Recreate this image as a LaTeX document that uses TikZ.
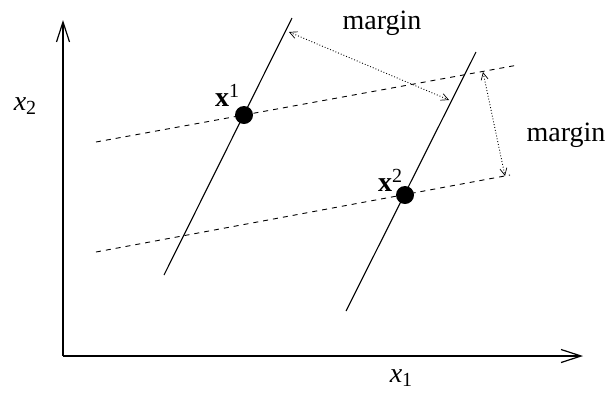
\documentclass[tikz,border=0pt]{standalone}
\usepackage{fontspec}
\setmainfont{Liberation Serif}
\usetikzlibrary{arrows.meta}
\begin{document}
\begin{tikzpicture}[x=1pt,y=-1pt,
  axis/.style={line width=1.6pt,-{Straight Barb[length=20pt,width=13pt,line width=1.2pt]}},
  hyper/.style={line width=1.1pt},
  marginline/.style={line width=0.9pt,dash pattern=on 5pt off 5pt},
  gap/.style={line width=0.9pt,dotted,{Straight Barb[length=7pt,width=7pt,line width=0.7pt]}-{Straight Barb[length=7pt,width=7pt,line width=0.7pt]}},
  pt/.style={circle,fill=black,inner sep=0pt,minimum size=18pt},
  lbl/.style={inner sep=0pt,font=\fontsize{28}{32}\selectfont}]
\useasboundingbox (0,0) rectangle (610,392);
% axes
\coordinate (o) at (63,356);
\coordinate (ytip) at (63,20);
\coordinate (xtip) at (583,356);
\draw[axis] (o) -- (ytip);
\draw[axis] (o) -- (xtip);
\node[lbl] (lx2) at (25,106) {\textit{x}\raisebox{-0.35ex}{\fontsize{20}{24}\selectfont 2}};
\node[lbl] (lx1) at (401,378) {\textit{x}\raisebox{-0.35ex}{\fontsize{20}{24}\selectfont 1}};
% margin lines
\coordinate (u1) at (96,142);
\coordinate (u2) at (518,65);
\coordinate (d1) at (96,252);
\coordinate (d2) at (510,175);
\draw[marginline] (u1) -- (u2);
\draw[marginline] (d1) -- (d2);
% solid lines
\coordinate (a1) at (164,275);
\coordinate (a2) at (292,18);
\coordinate (b1) at (346,311);
\coordinate (b2) at (476,52);
\draw[hyper] (a1) -- (a2);
\draw[hyper] (b1) -- (b2);
% points
\node[pt] (p1) at (244,115) {};
\node[pt] (p2) at (405,195) {};
\node[lbl] (l1) at (227,95) {\textbf{x}\raisebox{0.7ex}{\fontsize{20}{24}\selectfont 1}};
\node[lbl] (l2) at (390,180) {\textbf{x}\raisebox{0.7ex}{\fontsize{20}{24}\selectfont 2}};
% margin arrows
\coordinate (m1s) at (289,32);
\coordinate (m1e) at (449,100);
\coordinate (m2s) at (483,72);
\coordinate (m2e) at (505,176);
\draw[gap] (m1s) -- (m1e);
\draw[gap] (m2s) -- (m2e);
\node[lbl] (mt) at (382,23) {margin};
\node[lbl] (mr) at (566,135) {margin};
\end{tikzpicture}
\end{document}
